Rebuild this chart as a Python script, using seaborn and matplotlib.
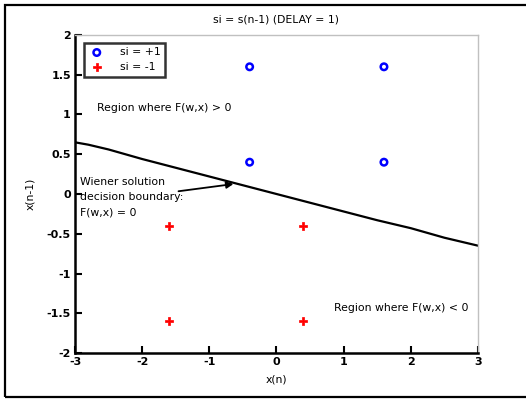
import matplotlib
matplotlib.use("Agg")
import matplotlib.pyplot as plt
import seaborn as sns
import pandas as pd
from matplotlib.patches import Rectangle

# Data
pos_x = [-0.4, 1.6, -0.4, 1.6]
pos_y = [1.6, 1.6, 0.4, 0.4]
neg_x = [-1.6, 0.4, -1.6, 0.4]
neg_y = [-0.4, -0.4, -1.6, -1.6]
boundary_x = [-3.0, -2.8, -2.5, -2.0, -1.5, -1.0, -0.5, 0.0, 0.5, 1.0, 1.5, 2.0, 2.5, 2.8, 3.0]
boundary_y = [0.65, 0.62, 0.56, 0.44, 0.33, 0.22, 0.11, 0.0, -0.11, -0.22, -0.33, -0.43, -0.55, -0.61, -0.65]
xticks = [-3, -2, -1, 0, 1, 2, 3]
yticks = [-2, -1.5, -1, -0.5, 0, 0.5, 1, 1.5, 2]

sns.set_style("white")
plt.rcParams.update({
    'font.family': ['DejaVu Sans'],
    'text.color': 'black',
    'axes.labelcolor': 'black',
    'xtick.color': 'black',
    'ytick.color': 'black',
    'xtick.bottom': True,
    'ytick.left': True,
    'xtick.direction': 'in',
    'ytick.direction': 'in',
    'xtick.major.size': 5,
    'ytick.major.size': 5,
    'xtick.major.width': 1.5,
    'ytick.major.width': 1.5,
})

fig = plt.figure(figsize=(5.26, 4.0), dpi=100)
ax = fig.add_axes([0.1426, 0.1175, 0.7661, 0.795])

bdf = pd.DataFrame({"x": boundary_x, "y": boundary_y})
sns.lineplot(data=bdf, x="x", y="y", ax=ax, color="black", linewidth=1.6, sort=False, legend=False)

pdf = pd.DataFrame({"x": pos_x, "y": pos_y})
ndf = pd.DataFrame({"x": neg_x, "y": neg_y})
sns.scatterplot(data=pdf, x="x", y="y", ax=ax, marker="o", s=22, facecolor="none",
                edgecolor="blue", linewidth=1.8, label="si = +1", zorder=5)
sns.scatterplot(data=ndf, x="x", y="y", ax=ax, marker="P", s=34, color="red",
                edgecolor="red", linewidth=0.5, label="si = -1", zorder=5)

ax.set_xlim(-3, 3)
ax.set_ylim(-2, 2)
ax.set_xticks(xticks)
ax.set_yticks(yticks)
ax.set_xticklabels([f"{t:g}" for t in xticks], fontsize=8, fontweight="bold")
ax.set_yticklabels([f"{t:g}" for t in yticks], fontsize=8, fontweight="bold")
ax.tick_params(direction="in", length=5, width=1.5, pad=3, colors="black",
               left=True, bottom=True, top=False, right=False)

for s in ["left", "bottom"]:
    ax.spines[s].set_color("black")
    ax.spines[s].set_linewidth(1.8)
for s in ["top", "right"]:
    ax.spines[s].set_color("#c0c0c0")
    ax.spines[s].set_linewidth(1.0)

fs = 7.8
ax.set_xlabel("x(n)", fontsize=fs, labelpad=5)
ax.set_ylabel("x(n-1)", fontsize=fs, labelpad=8)
ax.set_title("si = s(n-1) (DELAY = 1)", fontsize=fs, pad=9)

leg = ax.legend(loc="upper left", bbox_to_anchor=(0.015, 0.985), fontsize=fs, frameon=True,
                fancybox=False, borderpad=0.4, handletextpad=1.4, labelspacing=0.45,
                handlelength=1.5, borderaxespad=0.3)
leg.get_frame().set_edgecolor("black")
leg.get_frame().set_linewidth(1.8)

ax.text(-2.67, 1.08, "Region where F(w,x) > 0", fontsize=fs, ha="left", va="center")
ax.text(0.85, -1.43, "Region where F(w,x) < 0", fontsize=fs, ha="left", va="center")
ax.text(-2.93, 0.15, "Wiener solution", fontsize=fs, ha="left", va="center")
ax.text(-2.93, -0.04, "decision boundary:", fontsize=fs, ha="left", va="center")
ax.text(-2.93, -0.23, "F(w,x) = 0", fontsize=fs, ha="left", va="center")
ax.annotate("", xy=(-0.6, 0.13), xytext=(-1.5, 0.03),
            arrowprops=dict(arrowstyle="-|>", color="black", lw=1.3, mutation_scale=10))

fig.add_artist(Rectangle((5/526, 3/400), 2.0, 392/400, transform=fig.transFigure,
                         fill=False, edgecolor="black", linewidth=1.6, clip_on=False))

fig.savefig("out.png", dpi=100)
